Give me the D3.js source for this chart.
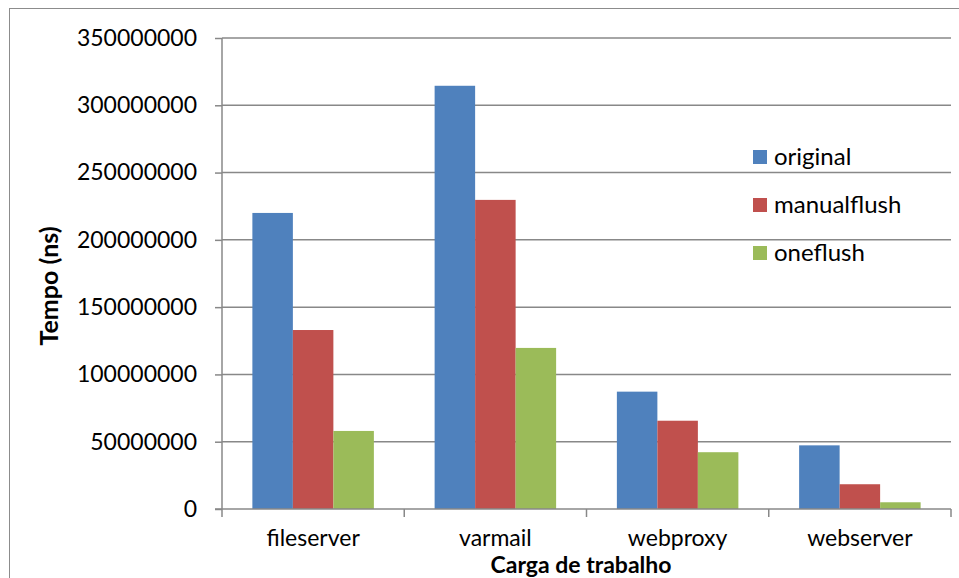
<!DOCTYPE html>
<html>
<head>
<meta charset="utf-8">
<script src="https://cdn.jsdelivr.net/npm/d3@7/dist/d3.min.js"></script>
<style>
  html, body { margin: 0; padding: 0; background: #fff; }
  svg { display: block; }
  text { font-family: Lato, "Open Sans", sans-serif; fill: #000; }
</style>
</head>
<body>
<svg id="chart" width="959" height="578"></svg>
<script>
const categories = ["fileserver", "varmail", "webproxy", "webserver"];
const seriesNames = ["original", "manualflush", "oneflush"];
const original    = [220000000, 314500000, 87200000, 47300000];
const manualflush = [133000000, 229700000, 65600000, 18400000];
const oneflush    = [58000000, 119700000, 42200000, 5000000];
const yTicks = [0, 50000000, 100000000, 150000000, 200000000, 250000000, 300000000, 350000000];
const colors = ["#4F81BD", "#C0504D", "#9BBB59"];
const yTitle = "Tempo (ns)";
const xTitle = "Carga de trabalho";

const seriesValues = [original, manualflush, oneflush];
const svg = d3.select("#chart");
const W = 959, H = 578;
const plot = { left: 222, right: 951, top: 38, bottom: 509 };
const grid = "#888888";

// outer frame
svg.append("rect").attr("x", 9.5).attr("y", 8.5).attr("width", W + 10).attr("height", H + 10)
  .attr("fill", "none").attr("stroke", "#8c8c8c").attr("stroke-width", 1);

const x0 = d3.scaleBand().domain(categories).range([plot.left, plot.right])
  .paddingInner(1/3).paddingOuter(1/6);
const x1 = d3.scaleBand().domain(seriesNames).range([0, x0.bandwidth()]);
const y = d3.scaleLinear().domain([0, 350000000]).range([plot.bottom, plot.top]);

// gridlines
svg.append("g").selectAll("line").data(yTicks.filter(d => d > 0)).join("line")
  .attr("x1", plot.left).attr("x2", plot.right)
  .attr("y1", d => y(d)).attr("y2", d => y(d))
  .attr("stroke", grid).attr("stroke-width", 1.5);

// bars
const g = svg.append("g");
categories.forEach((c, i) => {
  seriesNames.forEach((s, j) => {
    const v = seriesValues[j][i];
    g.append("rect")
      .attr("x", x0(c) + x1(s))
      .attr("width", x1.bandwidth())
      .attr("y", y(v))
      .attr("height", y(0) - y(v))
      .attr("fill", colors[j]);
  });
});

// y axis
const yAxis = d3.axisLeft(y).tickValues(yTicks).tickFormat(d3.format("d")).tickSize(7).tickPadding(18);
const ya = svg.append("g").attr("transform", `translate(${plot.left},0)`).call(yAxis);
ya.select(".domain").attr("stroke", grid).attr("stroke-width", 1.5).attr("d", `M0,${plot.top}V${plot.bottom}`);
ya.selectAll(".tick line").attr("stroke", grid).attr("stroke-width", 1.5);
ya.selectAll(".tick text").style("font-family", "Lato, sans-serif").style("font-size", "23px").attr("fill", "#000");

// x axis
const xa = svg.append("g").attr("transform", `translate(0,${plot.bottom})`);
xa.append("line").attr("x1", plot.left - 7).attr("x2", plot.right).attr("y1", 0).attr("y2", 0)
  .attr("stroke", grid).attr("stroke-width", 1.5);
const bounds = d3.range(categories.length + 1).map(i => plot.left + i * (plot.right - plot.left) / categories.length);
xa.selectAll("line.tk").data(bounds).join("line").attr("class", "tk")
  .attr("x1", d => d).attr("x2", d => d).attr("y1", 0).attr("y2", 8)
  .attr("stroke", grid).attr("stroke-width", 1.5);
xa.selectAll("text").data(categories).join("text")
  .attr("x", d => x0(d) + x0.bandwidth() / 2).attr("y", 37)
  .attr("text-anchor", "middle").style("font-size", "23px").text(d => d);

// axis titles
svg.append("text").attr("x", 581).attr("y", 573).attr("text-anchor", "middle")
  .style("font-size", "23px").style("font-weight", "bold").text(xTitle);
svg.append("text").attr("transform", "translate(58,286) rotate(-90)").attr("text-anchor", "middle")
  .style("font-size", "25px").style("font-weight", "bold").text(yTitle);

// legend
const lg = svg.append("g");
seriesNames.forEach((s, j) => {
  const yy = 157 + j * 48;
  lg.append("rect").attr("x", 753).attr("y", yy - 7).attr("width", 14).attr("height", 14).attr("fill", colors[j]);
  lg.append("text").attr("x", 774).attr("y", yy + 8).style("font-size", "24px").text(s);
});
</script>
</body>
</html>
